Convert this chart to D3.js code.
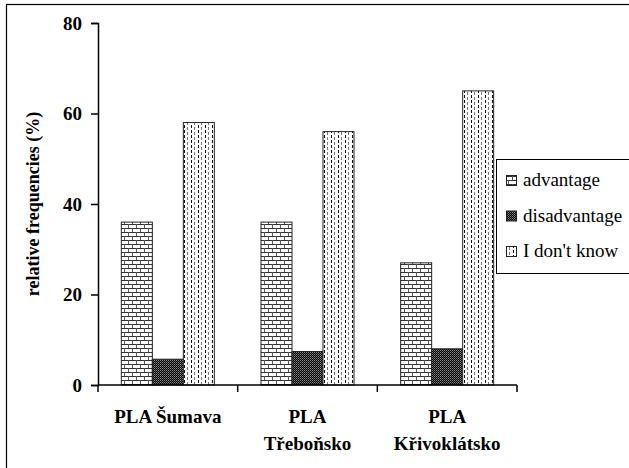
<!DOCTYPE html>
<html>
<head>
<meta charset="utf-8">
<script src="https://cdn.jsdelivr.net/npm/d3@7"></script>
<style>
  html, body { margin: 0; padding: 0; background: #fff; }
  svg { display: block; }
</style>
</head>
<body>
<svg id="chart" width="629" height="468"></svg>
<script>
const categories = [["PLA Šumava"], ["PLA", "Třeboňsko"], ["PLA", "Křivoklátsko"]];
const seriesNames = ["advantage", "disadvantage", "I don't know"];
const advantage = [36, 36, 27];
const disadvantage = [5.7, 7.4, 8.0];
const dontKnow = [58, 56, 65];
const yTicks = [0, 20, 40, 60, 80];

const seriesValues = [advantage, disadvantage, dontKnow];
const svg = d3.select("#chart");
const SERIF = '"Liberation Serif"';

// patterns
const defs = svg.append("defs");
// brick
const pb = defs.append("pattern").attr("id", "p0").attr("patternUnits", "userSpaceOnUse")
  .attr("width", 8).attr("height", 8);
pb.append("rect").attr("width", 8).attr("height", 8).attr("fill", "#fff");
pb.append("rect").attr("x", 0).attr("y", 0).attr("width", 8).attr("height", 1).attr("fill", "#333");
pb.append("rect").attr("x", 0).attr("y", 4).attr("width", 8).attr("height", 1).attr("fill", "#333");
pb.append("rect").attr("x", 0).attr("y", 0).attr("width", 1).attr("height", 4).attr("fill", "#555");
pb.append("rect").attr("x", 4).attr("y", 4).attr("width", 1).attr("height", 4).attr("fill", "#555");
// dense checker
const pc = defs.append("pattern").attr("id", "p1").attr("patternUnits", "userSpaceOnUse")
  .attr("width", 2).attr("height", 2);
pc.append("rect").attr("width", 2).attr("height", 2).attr("fill", "#000");
pc.append("rect").attr("x", 0).attr("y", 0).attr("width", 1).attr("height", 1).attr("fill", "#888");
pc.append("rect").attr("x", 1).attr("y", 1).attr("width", 1).attr("height", 1).attr("fill", "#555");
// dashed verticals
const pd = defs.append("pattern").attr("id", "p2").attr("patternUnits", "userSpaceOnUse")
  .attr("width", 7).attr("height", 5);
pd.append("rect").attr("width", 7).attr("height", 5).attr("fill", "#fff");
pd.append("rect").attr("x", 2).attr("y", 0).attr("width", 1).attr("height", 3).attr("fill", "#111");
pd.append("rect").attr("x", 5).attr("y", 2).attr("width", 1).attr("height", 3).attr("fill", "#777");

// outer border
svg.append("rect").attr("x", 6.5).attr("y", 4.5).attr("width", 640).attr("height", 480)
  .attr("fill", "none").attr("stroke", "#000").attr("stroke-width", 1.2);

const x0 = 98, x1 = 517, yTop = 23, yBot = 385;
const x = d3.scaleBand().domain(d3.range(categories.length)).range([x0, x1]).paddingInner(0).paddingOuter(0);
const barW = 31;
const xs = d3.scaleBand().domain(d3.range(seriesNames.length)).range([0, barW * 3]);
const y = d3.scaleLinear().domain([0, 80]).range([yBot, yTop]);

// bars
seriesValues.forEach((vals, s) => {
  svg.append("g").selectAll("rect").data(vals).join("rect")
    .attr("x", (d, i) => x(i) + (x.bandwidth() - barW * 3) / 2 + xs(s))
    .attr("y", d => y(d))
    .attr("width", xs.bandwidth())
    .attr("height", d => y(0) - y(d))
    .attr("fill", `url(#p${s})`)
    .attr("stroke", "#222").attr("stroke-width", 1);
});

// y axis
const yAxis = svg.append("g").attr("transform", `translate(${x0},0)`)
  .call(d3.axisLeft(y).tickValues(yTicks).tickSize(7).tickPadding(9).tickFormat(d3.format("d")));
yAxis.select(".domain").attr("stroke", "#000").attr("stroke-width", 1.5);
yAxis.selectAll(".tick line").attr("stroke", "#000").attr("stroke-width", 1.5);
yAxis.selectAll("text").style("font-family", SERIF).attr("font-weight", "bold")
  .attr("font-size", 19).attr("fill", "#000");

// x axis
const xAxisG = svg.append("g").attr("transform", `translate(0,${yBot})`);
xAxisG.append("line").attr("x1", x0).attr("x2", x1).attr("stroke", "#000").attr("stroke-width", 1.5);
const boundaries = d3.range(categories.length + 1).map(i => i < categories.length ? x(i) : x(i - 1) + x.bandwidth());
xAxisG.selectAll("line.t").data(boundaries).join("line").attr("class", "t")
  .attr("x1", d => d).attr("x2", d => d).attr("y1", 0).attr("y2", 7)
  .attr("stroke", "#000").attr("stroke-width", 1.5);

// x labels
categories.forEach((lines, i) => {
  const t = svg.append("text").attr("x", x(i) + x.bandwidth() / 2).attr("y", 423)
    .attr("text-anchor", "middle").style("font-family", SERIF).attr("font-weight", "bold")
    .attr("font-size", 19).attr("fill", "#000");
  lines.forEach((ln, j) => t.append("tspan").attr("x", x(i) + x.bandwidth() / 2).attr("dy", j ? 27 : 0).text(ln));
});

// y label
svg.append("text").attr("transform", "translate(39,204) rotate(-90)")
  .attr("text-anchor", "middle").style("font-family", SERIF).attr("font-weight", "bold")
  .attr("font-size", 18).attr("fill", "#000").text("relative frequencies (%)");

// legend
const lg = svg.append("g");
lg.append("rect").attr("x", 496.5).attr("y", 159.5).attr("width", 200).attr("height", 114)
  .attr("fill", "#fff").attr("stroke", "#000").attr("stroke-width", 1);
seriesNames.forEach((name, s) => {
  const cy = 180 + s * 35.5;
  lg.append("rect").attr("x", 506.5).attr("y", cy - 4.5).attr("width", 10).attr("height", 10)
    .attr("fill", `url(#p${s})`).attr("stroke", "#222").attr("stroke-width", 1);
  lg.append("text").attr("x", 523).attr("y", cy + 6).style("font-family", SERIF)
    .attr("font-size", 19).attr("fill", "#000").text(name);
});
</script>
</body>
</html>
